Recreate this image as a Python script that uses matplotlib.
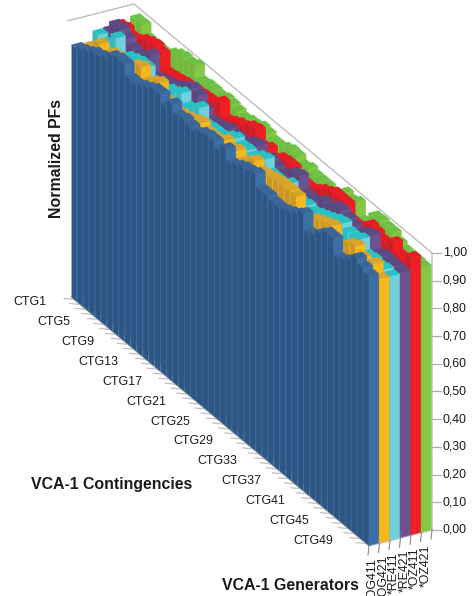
import matplotlib
matplotlib.use("Agg")
import matplotlib.pyplot as plt
from matplotlib.collections import PolyCollection

plt.rcParams['font.family'] = ['Liberation Sans', 'DejaVu Sans']

generators = ["*OG411", "*OG421", "*RE411", "*RE421", "*OZ411", "*OZ421"]
contingencies = ["CTG%d" % (i + 1) for i in range(50)]
z_ticks = [0.0, 0.1, 0.2, 0.3, 0.4, 0.5, 0.6, 0.7, 0.8, 0.9, 1.0]

og411 = [.912, .922, .934, .949, .955, .966, .991, 1.0, 1.0, .962,
         .962, .973, .984, .998, 1.0, .973, 1.0, .973, .98, .973,
         .966, .984, .991, .991, .973, 1.0, .961, .973, .985, .99,
         1.0, .955, .955, .948, .948, .955, .966, .98, 1.0, .944,
         .955, .98, 1.0, 1.0, .944, .955, .973, 1.0, .984, .973]
og421 = [.907, .92, .955, .93, .956, .961, .943, .93, .985, .997,
         .96, .98, .996, .95, .943, .943, .948, .955, .966, .976,
         .96, .96, .967, .985, .973, .984, .961, .98, 1.0, .978,
         .985, .992, .997, 1.0, 1.0, .999, .93, .93, .968, .979,
         .99, 1.0, .946, .955, .987, .999, .975, .964, .99, .953]
re411 = [.943, .93, .94, .986, .93, .951, .961, .969, .969, .93,
         .94, .945, .958, .967, .985, .95, .96, .986, .94, .945,
         .947, .95, .97, .983, .972, .975, .97, .988, .998, .96,
         .96, .96, .981, .95, .95, .956, .95, .96, .97, .98,
         .993, 1.0, .984, .984, .997, .955, .96, .955, .96, .953]
re421 = [.946, .985, .99, .973, .955, .95, .96, .987, .92, .93,
         .937, .946, .96, .978, .992, .985, .95, .928, .934, .94,
         .952, .95, .95, .95, .975, .983, .95, .97, .96, .95,
         .96, .99, .999, .95, .95, .958, .977, .975, .994, 1.0,
         .99, .98, .97, .99, 1.0, .95, .963, .96, .96, .957]
oz411 = [.957, .964, .95, .957, .975, .985, .992, .982, .927, .932,
         .938, .945, .945, .95, .955, .958, .963, .986, .937, .949,
         .962, .968, .987, .994, .949, .963, .94, .962, .967, .967,
         .95, .943, .943, .955, .973, .984, .998, .997, .997, .95,
         .95, .966, .989, .982, .97, .972, 1.0, .97, .96, 1.0]
oz421 = [.94, .985, .986, .95, .95, .95, .95, .97, .985, .993,
         .99, 1.0, .958, .964, .965, .962, .97, .967, .961, .953,
         .961, .964, .975, .97, .959, .96, .971, .98, .978, .96,
         .97, .96, .96, .96, .955, .96, .989, .98, .992, .94,
         .94, .993, .995, .99, .99, .97, .96, .96, .96, .957]
series = [og411, og421, re411, re421, oz411, oz421]

# face colours per generator: front, side, top
colors = [("#3b6fa6", "#2f5682", "#3a6596"),
          ("#f7b81c", "#c9962a", "#d9a42c"),
          ("#70d0dc", "#38b8c0", "#28c2c4"),
          ("#6b5391", "#58467c", "#5c4a84"),
          ("#f01f24", "#c8202a", "#e61c26"),
          ("#84c844", "#72b83e", "#6cc244")]

# oblique projection of the 3d box onto the picture
ORIGIN = (71.0, 297.0)
CTG_STEP = (5.96, 4.98)
GEN_STEP = (10.5, -2.67)
Z_LEN = 277.0
CTG_W = 0.86
GEN_W = 0.94


def proj(g, c, z):
    return (ORIGIN[0] + CTG_STEP[0] * c + GEN_STEP[0] * g,
            ORIGIN[1] + CTG_STEP[1] * c + GEN_STEP[1] * g - Z_LEN * z)


def main():
    fig = plt.figure(figsize=(4.74, 5.96), dpi=100)
    ax = fig.add_axes([0, 0, 1, 1])
    ax.set_xlim(0, 474)
    ax.set_ylim(596, 0)
    ax.axis("off")

    ng = len(generators)
    nc = len(contingencies)

    # back walls, only the outline shows
    ax.plot(*zip(proj(-0.3, 0, 1), proj(ng, 0, 1), proj(ng, nc, 1), proj(ng, nc, 0)),
            color="#b8b8b8", lw=0.9, zorder=1)
    ax.plot(*zip(proj(0, 0, 0), proj(0, nc, 0), proj(ng, nc, 0)),
            color="#b8b8b8", lw=0.9, zorder=1)

    # bars, painted back to front
    polys = []
    faces = []
    for c in range(nc):
        for g in range(ng - 1, -1, -1):
            v = series[g][c]
            g0, g1 = g + (1 - GEN_W) / 2, g + (1 + GEN_W) / 2
            c0, c1 = c + (1 - CTG_W) / 2, c + (1 + CTG_W) / 2
            front, side, top = colors[g]
            polys.append([proj(g0, c0, 0), proj(g0, c1, 0), proj(g0, c1, v), proj(g0, c0, v)])
            faces.append(side)
            polys.append([proj(g0, c1, 0), proj(g1, c1, 0), proj(g1, c1, v), proj(g0, c1, v)])
            faces.append(front)
            polys.append([proj(g0, c0, v), proj(g1, c0, v), proj(g1, c1, v), proj(g0, c1, v)])
            faces.append(top)
    ax.add_collection(PolyCollection(polys, facecolors=faces, edgecolors=faces,
                                     linewidths=0.2, zorder=2))

    # z axis
    for t in z_ticks:
        x, y = proj(ng, nc, t)
        ax.plot([x, x + 9], [y, y], color="#b0b0b0", lw=0.9, zorder=1)
        ax.text(x + 11, y, ("%.2f" % t).replace(".", ","), fontsize=8.9,
                va="center", ha="left", color="#1a1a1a")

    # contingency ticks and labels
    for c in range(nc):
        x, y = proj(0, c + 0.5, 0)
        ax.plot([x - 10, x], [y - 1, y], color="#c0c0c0", lw=0.9, zorder=1)
        if c % 4 == 0:
            ax.text(x - 27, y + 2.5, contingencies[c], fontsize=8.9, va="center",
                    ha="right", color="#1a1a1a")

    # generator ticks and labels
    for g in range(ng + 1):
        x, y = proj(g, nc, 0)
        ax.plot([x, x - 1], [y, y + 9], color="#888888", lw=0.8, zorder=1)
    for g in range(ng):
        x, y = proj(g + 0.5, nc, 0)
        ax.text(x - 1, y + 13, generators[g], rotation=90, fontsize=8.9, va="top",
                ha="center", color="#1a1a1a", clip_on=True)

    ax.text(57, 158, "Normalized PFs", rotation=90, fontsize=11.4, fontweight="bold",
            va="center", ha="center", color="#1a1a1a")
    ax.text(112, 484, "VCA-1 Contingencies", fontsize=11.4, fontweight="bold",
            va="center", ha="center", color="#1a1a1a")
    ax.text(290, 585, "VCA-1 Generators", fontsize=11.4, fontweight="bold",
            va="center", ha="center", color="#1a1a1a")

    fig.savefig("out.png", dpi=100)


if __name__ == "__main__":
    main()
